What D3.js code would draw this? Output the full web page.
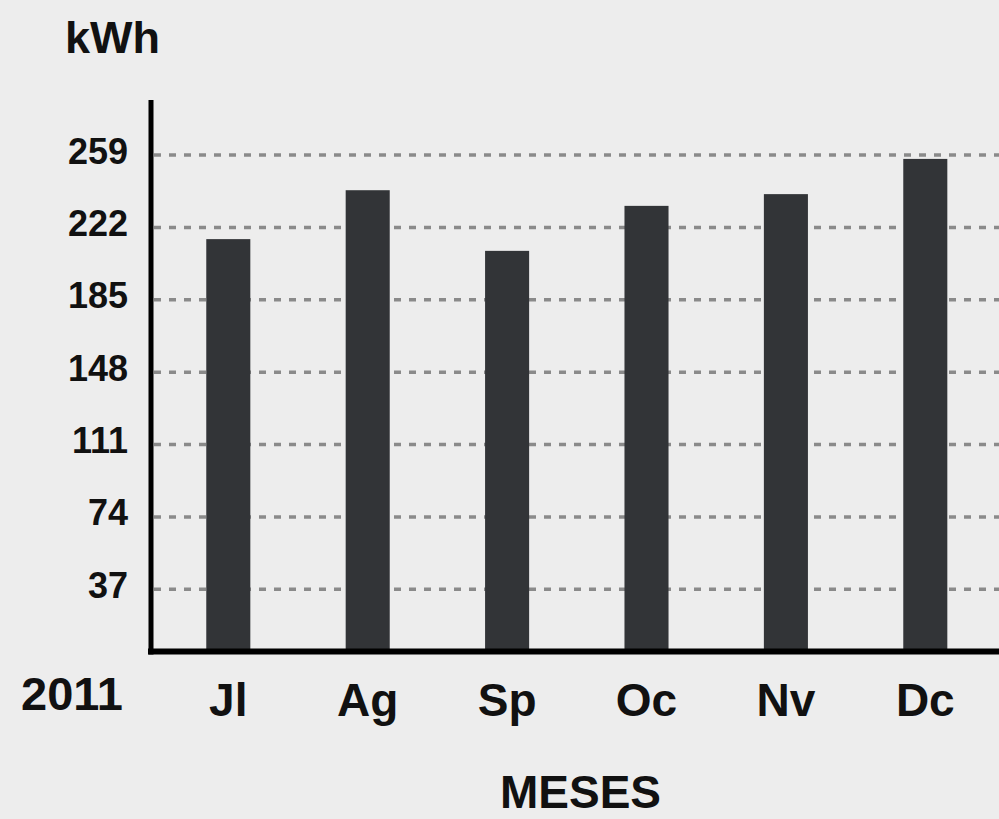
<!DOCTYPE html>
<html>
<head>
<meta charset="utf-8">
<script src="https://cdn.jsdelivr.net/npm/d3@7"></script>
<style>
  html, body { margin: 0; padding: 0; background: #ededed; }
  svg { display: block; }
  text { font-family: "Liberation Sans", Arial, Helvetica, sans-serif; font-weight: bold; fill: #111; }
</style>
</head>
<body>
<script>
// Monthly electricity consumption, second half of 2011
const months = ["Jl", "Ag", "Sp", "Oc", "Nv", "Dc"];
const kwh = [216, 241, 210, 233, 239, 257];
const yTicks = [37, 74, 111, 148, 185, 222, 259];
const yearLabel = "2011";
const unitLabel = "kWh";
const xTitle = "MESES";

const W = 999, H = 819;
const axisX = 151;       // vertical axis line
const axisY = 651.5;     // horizontal axis line

const svg = d3.select("body").append("svg")
  .attr("width", W).attr("height", H);

svg.append("rect").attr("width", W).attr("height", H).attr("fill", "#ededed");

const y = d3.scaleLinear().domain([0, 259]).range([661.7, 155]);
const x = d3.scaleBand().domain(months)
  .range([158.6, 995])
  .paddingInner(0.684)
  .paddingOuter(0.342);

// dashed gridlines
svg.append("g").selectAll("line").data(yTicks).join("line")
  .attr("x1", axisX + 3).attr("x2", W)
  .attr("y1", d => y(d)).attr("y2", d => y(d))
  .attr("stroke", "#8a8a8a")
  .attr("stroke-width", 3.5)
  .attr("stroke-dasharray", "7,8");

// tick labels
svg.append("g").selectAll("text").data(yTicks).join("text")
  .attr("x", 128).attr("y", d => y(d) + 8.5)
  .attr("text-anchor", "end")
  .attr("font-size", 36)
  .text(d => d);

// bars
svg.append("g").selectAll("rect").data(months).join("rect")
  .attr("x", d => x(d))
  .attr("width", x.bandwidth())
  .attr("y", (d, i) => y(kwh[i]))
  .attr("height", (d, i) => axisY - y(kwh[i]))
  .attr("fill", "#323437");

// axes
svg.append("line")
  .attr("x1", axisX).attr("x2", axisX)
  .attr("y1", 100).attr("y2", axisY + 3)
  .attr("stroke", "#000").attr("stroke-width", 5);
svg.append("line")
  .attr("x1", axisX - 3).attr("x2", W)
  .attr("y1", axisY).attr("y2", axisY)
  .attr("stroke", "#000").attr("stroke-width", 6);

// month labels
svg.append("g").selectAll("text").data(months).join("text")
  .attr("x", d => x(d) + x.bandwidth() / 2)
  .attr("y", 716)
  .attr("text-anchor", "middle")
  .attr("font-size", 46)
  .text(d => d);

svg.append("text")
  .attr("x", 21).attr("y", 710)
  .attr("font-size", 47)
  .text(yearLabel);

svg.append("text")
  .attr("x", 65).attr("y", 53)
  .attr("font-size", 45)
  .text(unitLabel);

svg.append("text")
  .attr("x", 580.5).attr("y", 808)
  .attr("text-anchor", "middle")
  .attr("font-size", 46)
  .text(xTitle);
</script>
</body>
</html>
